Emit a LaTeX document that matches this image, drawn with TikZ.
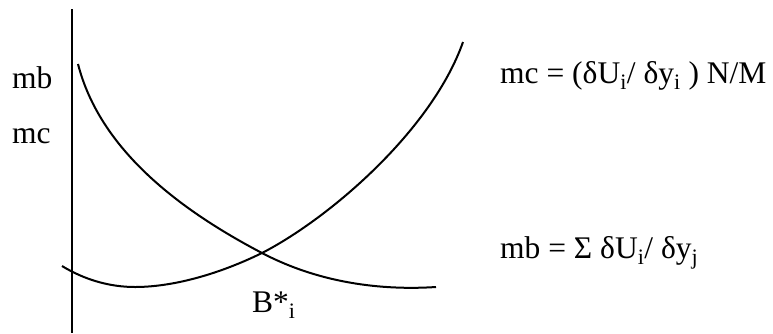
\documentclass[tikz,border=0pt]{standalone}
\usepackage{fontspec}
\setmainfont{Liberation Serif}
\begin{document}
\begin{tikzpicture}[x=1pt,y=-1pt,
  lbl/.style={anchor=base west,inner sep=0pt,font=\fontsize{31.5}{36}\selectfont},
  curve/.style={line width=2pt,black}]
\useasboundingbox (0,0) rectangle (773,333);
% axis
\coordinate (axtop) at (72,9);
\coordinate (axbot) at (72,333);
\draw[curve] (axtop) -- (axbot);
% mb curve (decreasing)
\coordinate (mbs) at (78,64);
\coordinate (cross) at (262,253);
\coordinate (mbe) at (436,287);
\draw[curve] (mbs) .. controls (100,150) and (180,210) .. (cross)
  .. controls (325,286) and (390,290) .. (mbe);
% mc curve (increasing)
\coordinate (mcs) at (62,266);
\coordinate (mcmin) at (135,287);
\coordinate (mce) at (463,42);
\draw[curve] (mcs) .. controls (85,280) and (110,287) .. (mcmin)
  .. controls (170,287) and (215,276) .. (cross)
  .. controls (330,218) and (432,130) .. (mce);
% labels
\node[lbl] (ymb) at (12,88) {mb};
\node[lbl] (ymc) at (12,143) {mc};
\node[lbl] (mceq) at (500,83) {mc = (δU\textsubscript{i}/ δy\textsubscript{i} ) N/M};
\node[lbl] (mbeq) at (500,258) {mb = Σ δU\textsubscript{i}/ δy\textsubscript{j}};
\node[lbl] (bstar) at (252,312) {B*\textsubscript{i}};
\end{tikzpicture}
\end{document}
